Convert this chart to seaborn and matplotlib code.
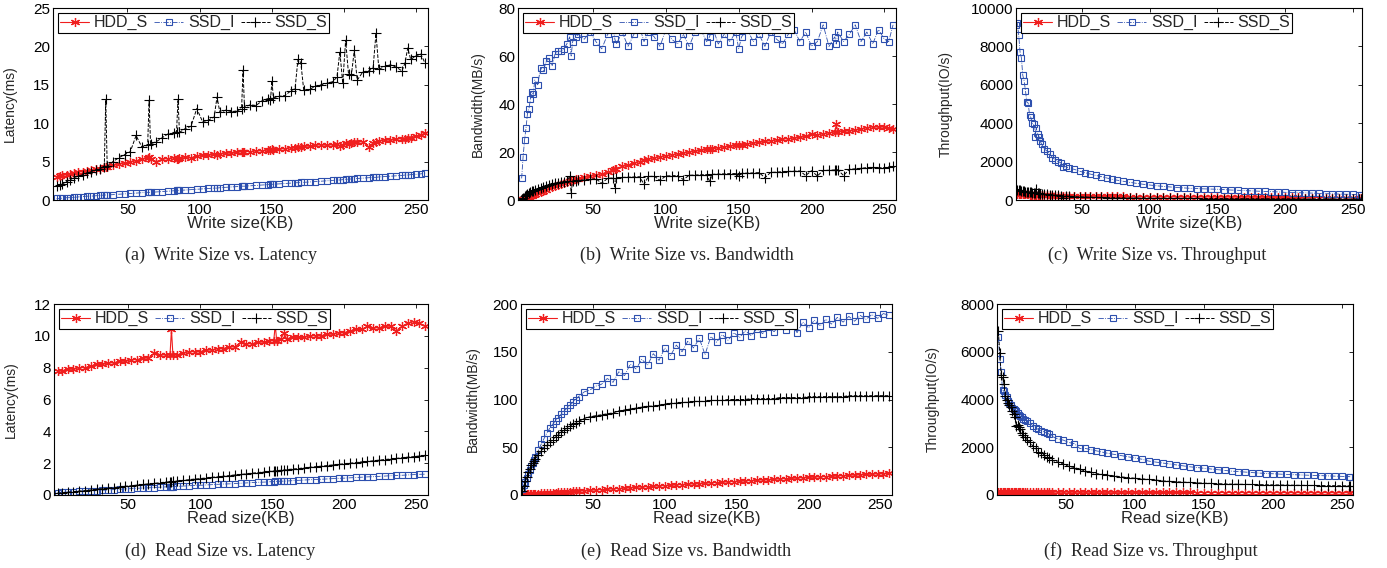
import matplotlib
matplotlib.use("Agg")
import matplotlib.pyplot as plt
import seaborn as sns

# ---- data ----
# (a) write size vs latency (ms)
xa = [1, 3, 5, 8, 10, 13, 16, 19, 22, 25,
      28, 31, 34, 35, 36, 40, 44, 48, 52, 56,
      60, 64, 65, 66, 70, 74, 78, 82, 84, 85,
      86, 90, 94, 98, 102, 106, 110, 112, 114, 118,
      122, 126, 129, 130, 131, 135, 139, 143, 147, 149,
      150, 151, 155, 159, 163, 166, 168, 170, 172, 176,
      180, 184, 188, 192, 195, 197, 199, 201, 203, 205,
      207, 209, 213, 217, 220, 222, 224, 228, 232, 236,
      240, 242, 244, 246, 250, 253, 256]
hdd_a = [3.0, 3.1, 3.2, 3.3, 3.4, 3.5, 3.7, 3.7, 3.8, 3.9,
         4.0, 4.1, 4.3, 4.3, 4.3, 4.5, 4.7, 4.8, 5.0, 5.1,
         5.3, 5.5, 5.6, 5.4, 5.0, 5.3, 5.4, 5.5, 5.3, 5.4,
         5.5, 5.6, 5.5, 5.7, 5.8, 5.8, 6.0, 5.9, 6.0, 6.1,
         6.1, 6.2, 6.3, 6.2, 6.3, 6.3, 6.4, 6.4, 6.5, 6.5,
         6.6, 6.5, 6.6, 6.7, 6.8, 6.8, 6.9, 6.9, 7.0, 7.0,
         7.1, 7.2, 7.1, 7.2, 7.3, 7.0, 7.2, 7.4, 7.3, 7.4,
         7.5, 7.5, 7.6, 6.9, 7.4, 7.6, 7.7, 7.8, 7.8, 7.9,
         8.0, 8.0, 8.1, 8.1, 8.3, 8.5, 8.7]
ssdi_a = [0.2, 0.2, 0.25, 0.3, 0.3, 0.35, 0.4, 0.45, 0.5, 0.5,
          0.55, 0.6, 0.65, 0.65, 0.65, 0.7, 0.75, 0.8, 0.85, 0.9,
          0.95, 1.0, 1.0, 1.0, 1.05, 1.1, 1.15, 1.2, 1.25, 1.25,
          1.25, 1.3, 1.35, 1.4, 1.45, 1.5, 1.55, 1.55, 1.6, 1.65,
          1.7, 1.75, 1.8, 1.8, 1.8, 1.85, 1.9, 1.95, 2.0, 2.05,
          2.05, 2.05, 2.1, 2.15, 2.2, 2.25, 2.25, 2.3, 2.3, 2.35,
          2.4, 2.45, 2.5, 2.55, 2.6, 2.6, 2.65, 2.7, 2.7, 2.75,
          2.75, 2.8, 2.85, 2.9, 2.95, 2.95, 3.0, 3.05, 3.1, 3.15,
          3.2, 3.25, 3.25, 3.3, 3.35, 3.4, 3.5]
ssds_a = [1.8, 1.9, 2.1, 2.4, 2.6, 2.9, 3.1, 3.3, 3.5, 3.7,
          3.9, 4.1, 4.3, 13.1, 4.4, 5.0, 5.5, 5.9, 6.3, 8.4,
          6.9, 7.1, 13.0, 7.3, 7.6, 8.1, 8.6, 8.7, 8.9, 13.1,
          8.8, 9.3, 9.6, 11.9, 10.2, 10.4, 10.8, 13.4, 11.4, 11.7,
          11.5, 11.6, 11.9, 16.9, 12.1, 12.4, 12.3, 12.9, 13.2, 13.0,
          15.5, 13.3, 13.5, 13.6, 14.2, 14.5, 18.3, 17.9, 14.3, 14.4,
          14.8, 15.0, 15.2, 15.4, 16.0, 19.3, 15.2, 20.8, 16.4, 16.3,
          19.5, 15.6, 16.7, 16.8, 17.2, 21.7, 17.0, 17.4, 17.6, 17.3,
          16.8, 17.8, 19.8, 18.3, 18.8, 19.0, 17.8]

# (b) write size vs bandwidth (MB/s)
xb = [1, 2, 3, 4, 5, 6, 7, 8, 9, 10,
      12, 14, 16, 18, 20, 22, 24, 26, 28, 30, 32, 34,
      35, 36, 38, 40, 44, 48, 52, 56, 60, 64,
      65, 66, 70, 74, 78, 82, 85, 88, 92, 96, 100,
      104, 108, 112, 116, 120, 124, 128, 130, 132, 136,
      140, 144, 148, 150, 152, 156, 160, 164, 168, 172,
      176, 180, 184, 188, 192, 196, 200, 204, 208, 212,
      216, 217, 218, 222, 226, 230, 234, 238, 242, 246,
      250, 253, 256]
hdd_b = [0.3, 0.5, 0.7, 0.9, 1.1, 1.3, 1.5, 1.8, 2.0, 2.3,
         2.8, 3.3, 3.8, 4.3, 4.8, 5.3, 5.8, 6.2, 6.7, 7.1, 7.5, 7.9,
         8.1, 8.3, 8.6, 8.9, 9.4, 9.9, 10.4, 10.9, 11.5, 12.5,
         12.8, 13.0, 14.0, 14.6, 15.3, 16.0, 16.6, 17.0, 17.6, 18.0, 18.4,
         18.8, 19.2, 19.6, 20.0, 20.4, 20.7, 21.1, 21.3, 21.4, 21.8,
         22.1, 22.4, 22.8, 23.0, 23.1, 23.4, 23.8, 24.0, 24.4, 24.7,
         25.0, 25.3, 25.6, 25.8, 26.1, 26.5, 27.5, 27.2, 27.6, 28.0,
         28.3, 31.5, 28.5, 28.6, 28.9, 29.2, 29.5, 30.2, 30.5, 30.3,
         30.5, 30.0, 29.5]
ssdi_b = [9, 18, 25, 30, 36, 38, 42, 45, 44, 50,
          48, 55, 54, 58, 59, 56, 61, 62, 62, 63, 65, 68,
          60, 66, 68, 69, 67, 70, 66, 63, 69, 71,
          67, 65, 70, 64, 69, 72, 66, 70, 68, 64, 71,
          67, 65, 69, 64, 70, 71, 66, 68, 72, 65,
          69, 66, 70, 63, 68, 71, 66, 69, 64, 70,
          67, 65, 69, 71, 66, 70, 64, 66, 73, 64,
          68, 65, 70, 66, 69, 73, 66, 70, 65, 71,
          67, 66, 73]
ssds_b = [0.5, 1.0, 1.5, 2.0, 2.5, 3.0, 3.3, 3.6, 3.9, 4.2,
          4.7, 5.2, 5.6, 6.0, 6.4, 6.7, 7.0, 7.2, 7.4, 7.6, 7.8, 10.0,
          3.0, 8.0, 8.1, 8.2, 8.4, 8.6, 8.8, 7.0, 9.0, 9.2,
          5.0, 9.3, 9.4, 9.5, 9.6, 9.7, 6.5, 9.8, 9.9, 8.2, 10.0,
          10.1, 10.2, 8.5, 10.3, 10.4, 10.5, 10.6, 7.8, 10.7, 10.8,
          10.9, 11.0, 11.0, 9.8, 11.1, 11.2, 11.3, 11.4, 9.3, 11.5,
          11.6, 11.8, 11.9, 12.0, 12.1, 10.2, 12.2, 10.0, 12.3, 12.4,
          12.5, 12.6, 12.6, 10.2, 12.8, 13.0, 13.2, 13.5, 13.6, 13.4,
          13.5, 13.6, 14.0]

# (c) write size vs throughput (IO/s) -- (f) uses the same sizes
xc = [1, 2, 3, 4, 5, 6, 7, 8, 9, 10,
      11, 12, 13, 14, 15, 16, 17, 18, 19, 20,
      22, 24, 26, 28, 30, 32, 34, 36, 38, 40,
      44, 48, 52, 56, 60, 64, 68, 72, 76, 80,
      85, 90, 95, 100, 105, 110, 115, 120, 125, 130,
      135, 140, 145, 150, 155, 160, 165, 170, 175, 180,
      185, 190, 195, 200, 205, 210, 215, 220, 225, 230,
      235, 240, 245, 250, 255, 256]
hdd_c = [330, 330, 320, 320, 310, 310, 300, 300, 295, 290,
         285, 280, 275, 270, 265, 262, 258, 255, 252, 250,
         245, 240, 237, 234, 230, 228, 225, 222, 220, 218,
         212, 208, 204, 200, 195, 190, 192, 188, 185, 183,
         180, 178, 176, 174, 172, 170, 168, 166, 164, 162,
         160, 158, 156, 154, 152, 150, 148, 146, 144, 142,
         140, 138, 136, 134, 132, 131, 130, 129, 128, 127,
         126, 125, 124, 122, 120, 118]
ssdi_c = [9100, 9200, 8600, 7700, 7400, 6500, 6200, 5700, 5100, 5050,
          4450, 4300, 4000, 3950, 3300, 3750, 3450, 3300, 3050, 2900,
          2650, 2550, 2400, 2200, 2100, 2000, 1950, 1700, 1750, 1650,
          1600, 1500, 1420, 1350, 1280, 1220, 1150, 1080, 1030, 980,
          920, 870, 820, 780, 740, 710, 680, 650, 630, 610,
          595, 580, 570, 560, 540, 520, 505, 490, 475, 460,
          445, 435, 420, 400, 390, 380, 370, 360, 345, 330,
          320, 310, 300, 290, 285, 280]
ssds_c = [560, 520, 500, 500, 480, 470, 460, 440, 430, 420,
          410, 400, 390, 380, 370, 560, 350, 340, 330, 320,
          300, 290, 280, 260, 250, 240, 230, 110, 210, 200,
          180, 170, 160, 150, 140, 135, 128, 122, 118, 112,
          105, 102, 98, 95, 92, 90, 88, 86, 84, 82,
          80, 78, 76, 74, 72, 70, 69, 68, 67, 66,
          65, 64, 63, 62, 61, 60, 59, 58, 57, 56,
          55, 54, 53, 52, 51, 50]

# (d) read size vs latency (ms)
xd = [1, 4, 8, 12, 16, 20, 24, 28, 32, 36, 40, 44, 48, 52, 56, 60, 64, 68, 72, 76,
      79, 80, 81,
      84, 88, 92, 96, 100, 104, 108, 112, 116, 120, 124, 128, 132, 136, 140, 144, 148,
      151, 152, 153, 156, 158,
      160, 164, 168, 172, 176, 180, 184, 188, 192, 196, 200, 204, 208, 212, 216,
      220, 224, 228, 232, 236, 240, 244, 248, 252, 256]
hdd_d = [7.8, 7.8, 7.9, 7.9, 8.0, 8.0, 8.1, 8.2, 8.2, 8.3, 8.3, 8.4, 8.4, 8.5, 8.5, 8.6, 8.6, 8.9, 8.8, 8.8,
         8.8, 10.4, 8.8,
         8.8, 8.9, 9.0, 9.0, 9.0, 9.1, 9.1, 9.2, 9.2, 9.3, 9.3, 9.6, 9.5, 9.5, 9.6, 9.6, 9.7,
         9.7, 10.7, 9.7, 9.8, 10.2,
         9.8, 9.9, 9.9, 9.9, 10.0, 10.0, 10.0, 10.1, 10.1, 10.2, 10.2, 10.3, 10.4, 10.4, 10.6,
         10.5, 10.5, 10.6, 10.6, 10.3, 10.6, 10.8, 10.9, 10.8, 10.6]
ssdi_d = [0.15, 0.17, 0.19, 0.21, 0.23, 0.25, 0.26, 0.28, 0.30, 0.32, 0.34, 0.36, 0.38, 0.40, 0.42, 0.44, 0.45, 0.47, 0.49, 0.51,
          0.52, 0.52, 0.53,
          0.54, 0.56, 0.58, 0.60, 0.61, 0.63, 0.65, 0.67, 0.69, 0.70, 0.72, 0.74, 0.76, 0.78, 0.80, 0.81, 0.83,
          0.84, 0.85, 0.85, 0.87, 0.87,
          0.88, 0.90, 0.92, 0.94, 0.96, 0.97, 0.99, 1.01, 1.03, 1.05, 1.06, 1.08, 1.10, 1.12, 1.14,
          1.15, 1.17, 1.19, 1.21, 1.23, 1.24, 1.26, 1.28, 1.30, 1.31]
ssds_d = [0.10, 0.14, 0.17, 0.21, 0.25, 0.28, 0.32, 0.36, 0.40, 0.43, 0.47, 0.51, 0.55, 0.58, 0.62, 0.66, 0.70, 0.73, 0.77, 0.81,
          0.83, 0.84, 0.85,
          0.88, 0.92, 0.96, 1.00, 1.03, 1.07, 1.11, 1.14, 1.18, 1.22, 1.26, 1.29, 1.33, 1.37, 1.41, 1.44, 1.48,
          1.51, 1.52, 1.53, 1.55, 1.57,
          1.59, 1.63, 1.66, 1.70, 1.74, 1.78, 1.81, 1.85, 1.89, 1.93, 1.96, 2.00, 2.04, 2.08, 2.11,
          2.15, 2.19, 2.23, 2.26, 2.30, 2.34, 2.38, 2.41, 2.45, 2.49]

# (e) read size vs bandwidth (MB/s)
xe = [1, 2, 3, 4, 5, 6, 7, 8, 9, 10,
      12, 14, 16, 18, 20, 22, 24, 26, 28, 30, 32, 34, 36, 38, 40,
      44, 48, 52, 56, 60, 64, 68, 72, 76, 80,
      84, 88, 92, 96, 100, 104, 108, 112, 116, 120,
      124, 128, 132, 136, 140, 144, 148, 152, 156, 160,
      164, 168, 172, 176, 180, 184, 188, 192, 196, 200,
      204, 208, 212, 216, 220, 224, 228, 232, 236, 240,
      244, 248, 252, 256]
hdd_e = [0.3, 0.4, 0.5, 0.6, 0.7, 0.8, 0.9, 1.0, 1.1, 1.2,
         1.4, 1.6, 1.8, 2.0, 2.2, 2.4, 2.6, 2.8, 3.0, 3.2, 3.3, 3.5, 3.7, 3.9, 4.1,
         4.5, 4.9, 5.3, 5.7, 6.0, 6.4, 6.8, 7.2, 7.6, 8.0,
         8.4, 8.7, 9.1, 9.5, 9.8, 10.2, 10.6, 10.9, 11.3, 11.6,
         12.0, 12.3, 12.7, 13.0, 13.4, 13.7, 14.1, 14.4, 14.8, 15.1,
         15.4, 15.8, 16.1, 16.4, 16.8, 17.1, 17.4, 17.7, 18.1, 18.4,
         18.7, 19.0, 19.3, 19.6, 19.9, 20.2, 20.6, 20.9, 21.2, 21.5,
         21.8, 22.1, 22.4, 22.7]
ssdi_e = [6, 10, 14, 18, 22, 26, 30, 33, 37, 40,
          47, 53, 59, 65, 70, 74, 78, 81, 85, 88, 91, 94, 97, 100, 103,
          108, 110, 114, 116, 122, 118, 129, 125, 137, 132,
          142, 136, 148, 141, 154, 146, 157, 150, 161, 154,
          164, 147, 166, 160, 168, 162, 170, 165, 172, 167,
          174, 169, 176, 171, 178, 173, 180, 170, 181, 175,
          183, 177, 184, 179, 186, 181, 187, 182, 188, 184,
          189, 185, 190, 188]
ssds_e = [4, 9, 15, 19, 24, 27, 31, 34, 36, 38,
          42, 46, 49, 52, 55, 58, 61, 63, 66, 68, 70, 72, 74, 75, 77,
          80, 82, 83, 84, 85, 86, 88, 89, 90, 91,
          92, 93, 93, 94, 95, 96, 96, 97, 97, 98,
          98, 98, 99, 99, 99, 100, 100, 100, 100, 101,
          101, 101, 101, 101, 102, 102, 102, 102, 102, 103,
          103, 103, 103, 103, 103, 103, 104, 104, 104, 104,
          104, 104, 104, 104]

# (f) read size vs throughput (IO/s)
xf = xc
hdd_f = [130, 130, 129, 129, 128, 128, 128, 127, 127, 127,
         126, 126, 126, 126, 125, 125, 125, 125, 124, 124,
         124, 123, 123, 122, 122, 121, 121, 120, 120, 119,
         119, 118, 117, 117, 116, 115, 115, 114, 113, 112,
         112, 111, 110, 110, 109, 108, 108, 107, 106, 106,
         105, 105, 104, 104, 103, 103, 102, 102, 101, 101,
         100, 100, 99, 99, 98, 98, 97, 97, 96, 96,
         96, 95, 95, 94, 94, 94]
ssdi_f = [6600, 5700, 5150, 4400, 4350, 4200, 4100, 3950, 3850, 3750,
          3650, 3600, 3550, 3500, 3450, 3350, 3300, 3250, 3200, 3150,
          3100, 3000, 2900, 2800, 2750, 2700, 2650, 2600, 2550, 2450,
          2350, 2300, 2200, 2150, 1950, 1950, 1900, 1850, 1800, 1750,
          1700, 1650, 1600, 1550, 1500, 1420, 1380, 1340, 1300, 1260,
          1220, 1180, 1150, 1120, 1090, 1060, 1030, 1000, 980, 960,
          940, 920, 900, 890, 875, 860, 850, 840, 830, 820,
          810, 800, 790, 780, 770, 765]
ssds_f = [6850, 5950, 5040, 4950, 4650, 4150, 4000, 3850, 3750, 3700,
          3500, 3375, 3250, 2900, 2950, 2850, 2750, 2600, 2500, 2450,
          2300, 2200, 2050, 1950, 1800, 1750, 1680, 1600, 1550, 1450,
          1380, 1300, 1200, 1150, 1080, 1000, 950, 900, 860, 830,
          800, 760, 730, 700, 680, 650, 630, 590, 570, 555,
          540, 525, 510, 495, 485, 475, 465, 455, 450, 445,
          440, 435, 430, 425, 420, 415, 410, 405, 400, 400,
          395, 390, 390, 385, 385, 385]

captions = ['(a)  Write Size vs. Latency', '(b)  Write Size vs. Bandwidth',
            '(c)  Write Size vs. Throughput', '(d)  Read Size vs. Latency',
            '(e)  Read Size vs. Bandwidth', '(f)  Read Size vs. Throughput']

RED = '#f01e1e'
BLUE = '#2d4fae'
W, H = 1387, 568

sns.set_theme(style="white")
plt.rcParams['font.family'] = ['Liberation Sans', 'DejaVu Sans']
plt.rcParams['axes.edgecolor'] = 'black'
plt.rcParams['axes.linewidth'] = 0.8

ASTERISK = (6, 2, 0)


def make_ax(fig, left, top, right, bottom):
    return fig.add_axes([left / W, 1 - bottom / H, (right - left) / W, (bottom - top) / H])


def draw(ax, x, hdd, ssdi, ssds, xlim, ylim, yticks, xlabel, ylabel, ylab_x):
    sns.lineplot(x=x, y=hdd, ax=ax, color=RED, lw=0.8, marker=ASTERISK, markersize=6.5,
                 mec=RED, mew=0.9, label='HDD_S')
    sns.lineplot(x=x, y=ssdi, ax=ax, color=BLUE, lw=0.6, linestyle='-.', marker='s',
                 markersize=5, mec=BLUE, mfc='none', mew=0.8, label='SSD_I')
    sns.lineplot(x=x, y=ssds, ax=ax, color='black', lw=0.7, linestyle='--', marker='+',
                 markersize=6.5, mec='black', mew=0.8, label='SSD_S')
    ax.set_xlim(*xlim)
    ax.set_ylim(*ylim)
    ax.set_xticks([50, 100, 150, 200, 250])
    ax.set_yticks(yticks)
    ax.tick_params(direction='in', top=True, right=True, length=3, width=0.6,
                   pad=2, labelsize=11, colors='black')
    ax.set_xlabel(xlabel, fontsize=12)
    ax.set_ylabel(ylabel, fontsize=10)
    ax.xaxis.set_label_coords(0.5, -0.085)
    ax.yaxis.set_label_coords(ylab_x, 0.5)
    leg = ax.legend(loc='upper left', ncol=3, fontsize=11.5, frameon=True, fancybox=False,
                    edgecolor='black', framealpha=1, borderpad=0.15, handlelength=1.8,
                    handletextpad=0.3, columnspacing=0.4, borderaxespad=0.3, numpoints=1)
    leg.get_frame().set_linewidth(0.8)


fig = plt.figure(figsize=(W / 100, H / 100), dpi=100)

# pixel boxes of the six panels: left, top, right, bottom
boxes = [(53, 8, 428, 200), (518, 8, 896, 200), (1016, 8, 1362, 200),
         (54, 304, 428, 495), (521, 304, 892, 495), (997, 304, 1353, 495)]
ylab_px = [17, 485, 953, 18, 480, 940]
axes = []
for (l, t, r, b), yl in zip(boxes, ylab_px):
    ax = make_ax(fig, l, t, r, b)
    axes.append((ax, (yl - l) / (r - l)))

draw(axes[0][0], xa, hdd_a, ssdi_a, ssds_a, (-1.5, 258), (0, 25), [0, 5, 10, 15, 20, 25],
     'Write size(KB)', 'Latency(ms)', axes[0][1])
draw(axes[1][0], xb, hdd_b, ssdi_b, ssds_b, (-1.5, 258), (0, 80), [0, 20, 40, 60, 80],
     'Write size(KB)', 'Bandwidth(MB/s)', axes[1][1])
draw(axes[2][0], xc, hdd_c, ssdi_c, ssds_c, (1, 257), (0, 10000), [0, 2000, 4000, 6000, 8000, 10000],
     'Write size(KB)', 'Throughput(IO/s)', axes[2][1])
draw(axes[3][0], xd, hdd_d, ssdi_d, ssds_d, (-1.5, 258), (0, 12), [0, 2, 4, 6, 8, 10, 12],
     'Read size(KB)', 'Latency(ms)', axes[3][1])
draw(axes[4][0], xe, hdd_e, ssdi_e, ssds_e, (0, 258), (0, 200), [0, 50, 100, 150, 200],
     'Read size(KB)', 'Bandwidth(MB/s)', axes[4][1])
draw(axes[5][0], xf, hdd_f, ssdi_f, ssds_f, (0, 258), (0, 8000), [0, 2000, 4000, 6000, 8000],
     'Read size(KB)', 'Throughput(IO/s)', axes[5][1])

cap_pos = [(221, 255), (687, 255), (1157, 255), (220, 551), (686, 551), (1151, 551)]
for txt, (cx, cy) in zip(captions, cap_pos):
    fig.text(cx / W, 1 - cy / H, txt, ha='center', va='center', fontsize=13,
             family=['Liberation Serif', 'DejaVu Serif'])

fig.savefig('out.png', dpi=100)
